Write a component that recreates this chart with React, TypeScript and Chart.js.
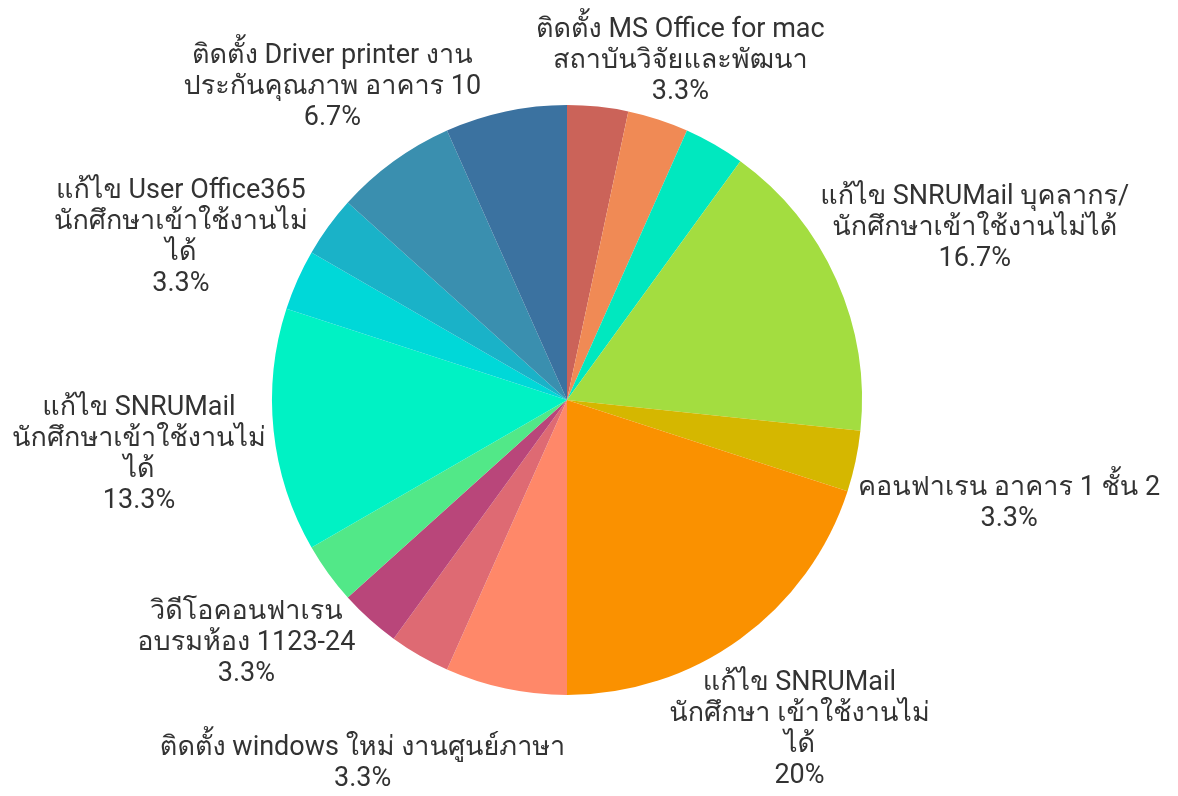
import React, { useEffect, useRef } from "react";
import { Chart, registerables } from "chart.js";

Chart.register(...registerables);

// Category names (multi-line text as shown on the chart)
const categories: string[][] = [
  ["ติดตั้งโปรแกรม", "สำนักงาน"],
  ["ติดตั้ง MS Office for mac", "สถาบันวิจัยและพัฒนา"],
  ["แก้ไขอินเทอร์เน็ต", "อาคาร 2"],
  ["แก้ไข SNRUMail บุคลากร/", "นักศึกษาเข้าใช้งานไม่ได้"],
  ["คอนฟาเรน อาคาร 1 ชั้น 2"],
  ["แก้ไข SNRUMail", "นักศึกษา เข้าใช้งานไม่", "ได้"],
  ["ติดตั้ง printer", "งานทะเบียน"],
  ["ติดตั้ง windows ใหม่ งานศูนย์ภาษา"],
  ["ซ่อมคอมพิวเตอร์", "ห้องปฏิบัติการ"],
  ["วิดีโอคอนฟาเรน", "อบรมห้อง 1123-24"],
  ["แก้ไข SNRUMail", "นักศึกษาเข้าใช้งานไม่", "ได้"],
  ["แก้ไข User Office365", "นักศึกษาเข้าใช้งานไม่", "ได้"],
  ["ติดตั้งโปรแกรม", "ห้องประชุม"],
  ["ติดตั้ง Driver printer งาน", "ประกันคุณภาพ อาคาร 10"],
  ["แก้ไขระบบเครือข่าย", "อาคาร 10"],
];

// Number of requests per category
const requestCounts: number[] = [1, 1, 1, 5, 1, 6, 2, 1, 1, 1, 4, 1, 1, 2, 2];

// Slices whose labels are displayed (others are hidden, as in the reference)
const labeledIndexes: number[] = [1, 3, 4, 5, 7, 9, 10, 11, 13];

const sliceColors: string[] = [
  "#CB6359",
  "#F08A55",
  "#00E8BF",
  "#A3DD40",
  "#D5B700",
  "#FA9100",
  "#FF8869",
  "#DE6A73",
  "#B9467A",
  "#52E888",
  "#00F2C4",
  "#00D8D8",
  "#1AB2C8",
  "#3A8FAF",
  "#3B72A0",
];

const FONT_SIZE = 27;
const LINE_H = 31;
const LABEL_GAP = 9;
const LABEL_Y_SHIFT = 10;
const FONT_FAMILY =
  'Roboto, Loma, Garuda, Waree, Umpush, "Noto Sans Thai Looped", "Noto Sans Thai", "Noto Sans", sans-serif';

function formatPct(v: number, total: number): string {
  return String(Math.round((v / total) * 1000) / 10) + "%";
}

const outsideLabels = {
  id: "outsideLabels",
  afterDatasetsDraw(chart: any) {
    const ctx: CanvasRenderingContext2D = chart.ctx;
    const meta = chart.getDatasetMeta(0);
    const data: number[] = chart.data.datasets[0].data;
    const total = data.reduce((a, b) => a + b, 0);
    ctx.save();
    ctx.font = `${FONT_SIZE}px ${FONT_FAMILY}`;
    ctx.fillStyle = "#333333";
    ctx.textAlign = "center";
    ctx.textBaseline = "middle";
    meta.data.forEach((arc: any, i: number) => {
      if (!labeledIndexes.includes(i)) return;
      const p = arc.getProps(["x", "y", "startAngle", "endAngle", "outerRadius"], true);
      const mid = (p.startAngle + p.endAngle) / 2;
      const vx = Math.cos(mid);
      const vy = Math.sin(mid);
      const lines = [...(chart.data.labels[i] as string[]), formatPct(data[i], total)];
      const w = Math.max(...lines.map((l) => ctx.measureText(l).width));
      const h = lines.length * LINE_H;
      const extra = LABEL_GAP + Math.hypot((w / 2) * vx, (h / 2) * vy);
      const cx = p.x + vx * (p.outerRadius + extra);
      const cy = p.y + vy * (p.outerRadius + extra) + LABEL_Y_SHIFT;
      lines.forEach((ln, k) => {
        ctx.fillText(ln, cx, cy - h / 2 + LINE_H * (k + 0.5));
      });
    });
    ctx.restore();
  },
};

export default function App() {
  const canvasRef = useRef<HTMLCanvasElement | null>(null);

  useEffect(() => {
    if (!canvasRef.current) return;
    const chart = new Chart(canvasRef.current, {
      type: "pie",
      data: {
        labels: categories,
        datasets: [
          {
            data: requestCounts,
            backgroundColor: sliceColors,
            borderWidth: 0,
          },
        ],
      },
      options: {
        animation: false,
        responsive: true,
        maintainAspectRatio: false,
        layout: {
          padding: { top: 105, bottom: 101, left: 272, right: 316 },
        },
        plugins: {
          legend: { display: false },
          tooltip: { enabled: false },
        },
      },
      plugins: [outsideLabels],
    });
    return () => chart.destroy();
  }, []);

  return (
    <div style={{ position: "fixed", left: 0, top: 0, width: 1178, height: 796, background: "#fff" }}>
      <canvas ref={canvasRef} />
    </div>
  );
}
